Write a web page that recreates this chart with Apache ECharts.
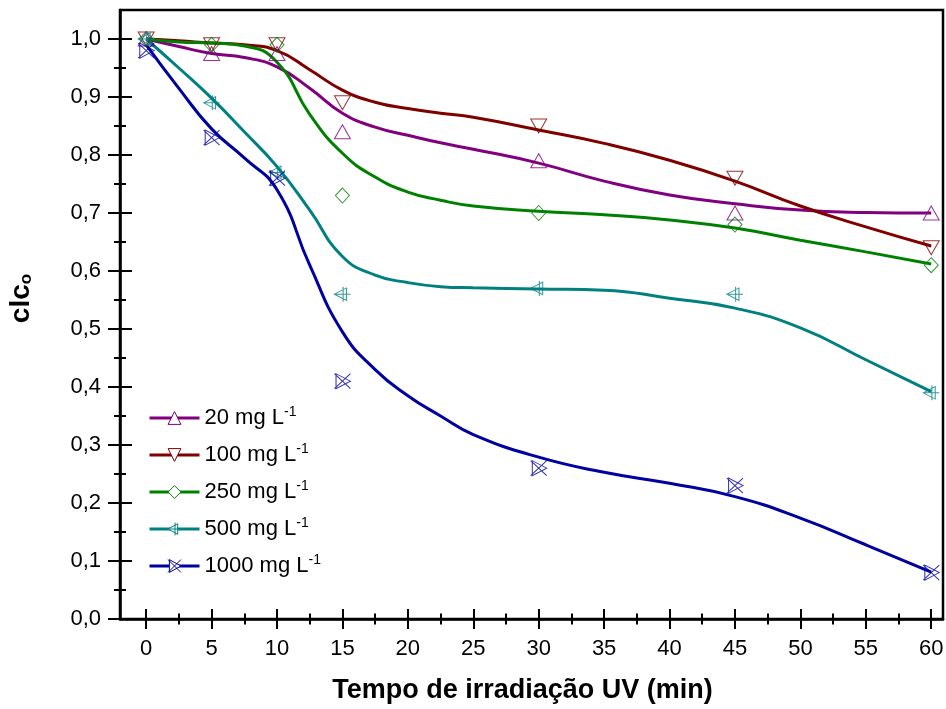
<!DOCTYPE html>
<html>
<head>
<meta charset="utf-8">
<script src="https://cdn.jsdelivr.net/npm/echarts@6/dist/echarts.min.js"></script>
<style>
  html, body { margin: 0; padding: 0; background: #fff; }
  #chart { width: 946px; height: 709px; }
</style>
</head>
<body>
<div id="chart"></div>
<script>
const tempos = [0, 5, 10, 15, 30, 45, 60];
const p20 = [1.0, 0.975, 0.975, 0.84, 0.79, 0.70, 0.70];
const p100 = [1.0, 0.99, 0.99, 0.89, 0.85, 0.76, 0.64];
const p250 = [1.0, 0.99, 0.99, 0.73, 0.70, 0.68, 0.61];
const p500 = [1.0, 0.89, 0.77, 0.56, 0.57, 0.56, 0.39];
const p1000 = [0.98, 0.83, 0.76, 0.41, 0.26, 0.23, 0.08];

// curvas ajustadas
const curvaX = [0, 2.5, 5, 7.5, 10, 12.5, 15, 17.5, 20, 22.5, 25, 30, 35, 40, 45, 50, 55, 60];
const c20 = [1.0, 0.987, 0.975, 0.968, 0.952, 0.915, 0.872, 0.848, 0.834, 0.821, 0.81, 0.786, 0.755, 0.731, 0.716, 0.705, 0.701, 0.70];
const c100 = [1.0, 0.997, 0.993, 0.99, 0.98, 0.947, 0.912, 0.891, 0.88, 0.872, 0.865, 0.843, 0.82, 0.791, 0.755, 0.712, 0.676, 0.643];
const c250 = [1.0, 0.995, 0.993, 0.988, 0.96, 0.87, 0.803, 0.762, 0.736, 0.722, 0.712, 0.703, 0.697, 0.688, 0.674, 0.653, 0.633, 0.612];
const c500 = [1.0, 0.95, 0.898, 0.84, 0.78, 0.705, 0.625, 0.593, 0.58, 0.573, 0.571, 0.569, 0.567, 0.553, 0.536, 0.502, 0.447, 0.392];
const c1000 = [0.99, 0.915, 0.845, 0.795, 0.74, 0.61, 0.495, 0.43, 0.385, 0.35, 0.318, 0.279, 0.253, 0.234, 0.211, 0.174, 0.128, 0.081];

const nomes = ['20 mg L', '100 mg L', '250 mg L', '500 mg L', '1000 mg L'];
const cores = ['#800080', '#800000', '#008000', '#008080', '#0000a0'];

const xTicks = [0, 5, 10, 15, 20, 25, 30, 35, 40, 45, 50, 55, 60];
const xMinor = [2.5, 7.5, 12.5, 17.5, 22.5, 27.5, 32.5, 37.5, 42.5, 47.5, 52.5, 57.5];
const yTicks = [0, 0.1, 0.2, 0.3, 0.4, 0.5, 0.6, 0.7, 0.8, 0.9, 1.0];
const yMinor = [0.05, 0.15, 0.25, 0.35, 0.45, 0.55, 0.65, 0.75, 0.85, 0.95];

const fonte = "'Liberation Sans', Arial, sans-serif";

const simbolos = [
  'path://M5,0L10,9L0,9Z',
  'path://M0,0L10,0L5,9Z',
  'diamond',
  'path://M0,5L9,0L9,10ZM6.5,-1L6.5,11M0,5L12,5',
  'path://M0,0L10,10M10,0L0,10M1,0L1,10L10,5Z'
];
const tamanhos = [[16, 14], [16, 14], [14, 15], [16, 15], [16, 15]];

const pontos = [p20, p100, p250, p500, p1000];
const curvas = [c20, c100, c250, c500, c1000];

const par = (xs, ys) => xs.map((x, i) => [x, ys[i]]);

let series = [];
curvas.forEach((c, i) => {
  series.push({
    name: nomes[i],
    type: 'line',
    data: par(curvaX, c),
    smooth: 0.5,
    showSymbol: false,
    symbol: simbolos[i],
    symbolSize: tamanhos[i],
    lineStyle: { color: cores[i], width: 3 },
    itemStyle: { color: '#fff', borderColor: cores[i], borderWidth: 1 },
    emphasis: { disabled: true },
    z: 2
  });
});
pontos.forEach((p, i) => {
  series.push({
    name: 'pontos ' + nomes[i],
    type: 'scatter',
    data: par(tempos, p),
    symbol: simbolos[i],
    symbolSize: tamanhos[i],
    itemStyle: { color: 'rgba(0,0,0,0)', borderColor: cores[i], borderWidth: 1 },
    emphasis: { disabled: true },
    z: 3
  });
});

const eixoX = {
  type: 'value', min: -2, max: 60.9, position: 'bottom',
  splitLine: { show: false }
};
const eixoY = {
  type: 'value', min: 0, max: 1.05, position: 'left',
  splitLine: { show: false }
};

let option = {
  backgroundColor: '#fff',
  animation: false,
  grid: {
    left: 120, right: 3, top: 10, bottom: 90,
    containLabel: false,
    outerBoundsMode: 'none',
    show: true, borderColor: '#000', borderWidth: 2.5, backgroundColor: 'transparent'
  },
  legend: {
    data: nomes,
    orient: 'vertical',
    left: 143,
    top: 400,
    itemWidth: 50,
    itemHeight: 16,
    itemGap: 13,
    selectedMode: false,
    itemStyle: { borderWidth: 1 },
    lineStyle: { width: 3 },
    formatter: (name) => '{n|' + name + '}{s|-1}',
    textStyle: {
      color: '#000',
      fontFamily: fonte,
      rich: {
        n: { fontSize: 22, lineHeight: 26, fontFamily: fonte, color: '#000' },
        s: { fontSize: 14, lineHeight: 14, verticalAlign: 'top', fontFamily: fonte, color: '#000' }
      }
    }
  },
  xAxis: [
    Object.assign({}, eixoX, {
      axisLine: { show: true, onZero: false, lineStyle: { color: '#000', width: 2.5 } },
      axisTick: { show: false },
      axisLabel: { customValues: xTicks, fontSize: 22, color: '#000', margin: 19, fontFamily: fonte },
      name: 'Tempo de irradiação UV (min)',
      nameLocation: 'middle',
      nameGap: 58,
      nameTextStyle: { fontSize: 27, fontWeight: 'bold', color: '#000', fontFamily: fonte, padding: [0, 18, 0, 0] }
    }),
    Object.assign({}, eixoX, {
      offset: -10,
      axisLine: { show: false, onZero: false },
      axisLabel: { show: false },
      axisTick: { show: true, length: 20, customValues: xTicks, lineStyle: { color: '#000', width: 2 } }
    }),
    Object.assign({}, eixoX, {
      offset: -5.5,
      axisLine: { show: false, onZero: false },
      axisLabel: { show: false },
      axisTick: { show: true, length: 11, customValues: xMinor, lineStyle: { color: '#000', width: 2 } }
    })
  ],
  yAxis: [
    Object.assign({}, eixoY, {
      axisLine: { show: true, onZero: false, lineStyle: { color: '#000', width: 2.5 } },
      axisTick: { show: false },
      axisLabel: {
        customValues: yTicks, fontSize: 22, color: '#000', margin: 19, fontFamily: fonte,
        formatter: (v) => v.toFixed(1).replace('.', ',')
      },
      name: '{a|clc}{b|o}',
      nameLocation: 'middle',
      nameGap: 85,
      nameTextStyle: {
        rich: {
          a: { fontSize: 28, fontWeight: 'bold', lineHeight: 28, verticalAlign: 'top', padding: [0, 0, 0, 32], color: '#000', fontFamily: fonte },
          b: { fontSize: 17, fontWeight: 'bold', lineHeight: 17, verticalAlign: 'bottom', padding: [22, 0, 0, 0], color: '#000', fontFamily: fonte }
        }
      }
    }),
    Object.assign({}, eixoY, {
      offset: -12,
      axisLine: { show: false, onZero: false },
      axisLabel: { show: false },
      axisTick: { show: true, length: 24, customValues: yTicks, lineStyle: { color: '#000', width: 2 } }
    }),
    Object.assign({}, eixoY, {
      offset: -6,
      axisLine: { show: false, onZero: false },
      axisLabel: { show: false },
      axisTick: { show: true, length: 12, customValues: yMinor, lineStyle: { color: '#000', width: 2 } }
    })
  ],
  series: series
};

let myChart = echarts.init(document.getElementById('chart'));
myChart.setOption(option);
</script>
</body>
</html>
